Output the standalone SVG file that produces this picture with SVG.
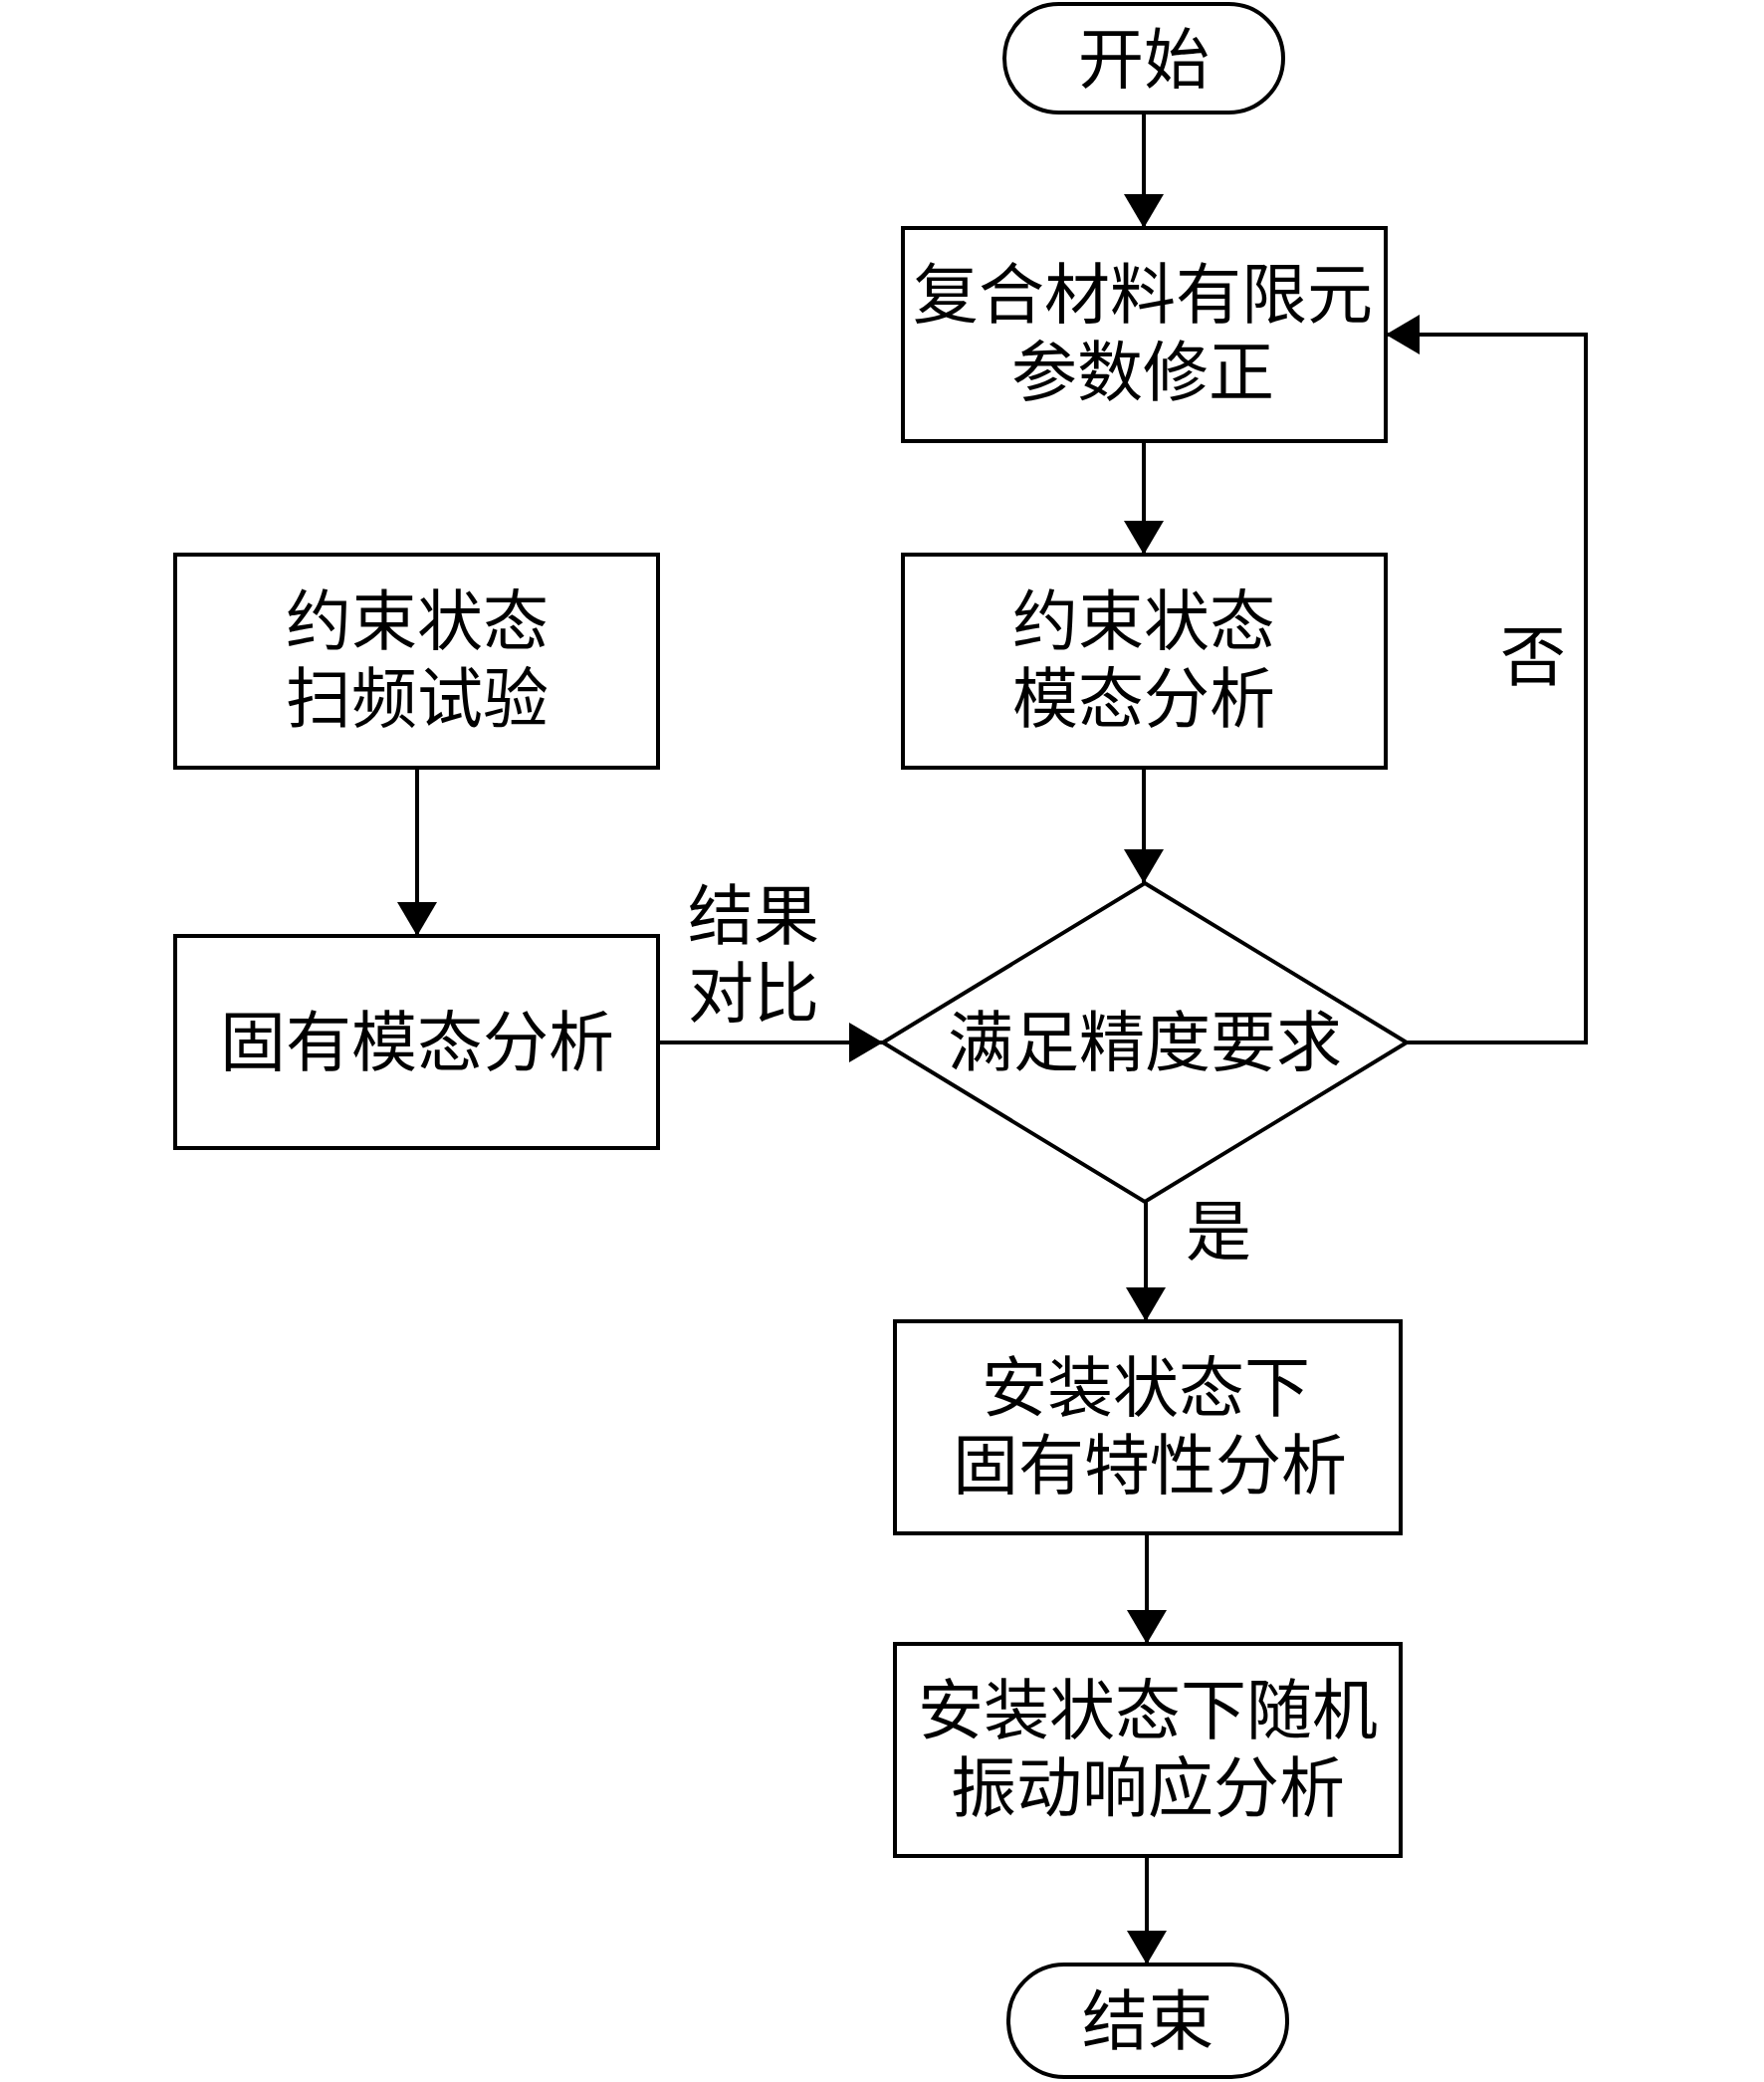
<svg xmlns="http://www.w3.org/2000/svg" width="1772" height="2091" viewBox="0 0 1772 2091">
<style>
.s{fill:#fff;stroke:#000;stroke-width:4}
.c{fill:none;stroke:#000;stroke-width:4}
text{font-family:"Liberation Serif","Noto Sans CJK SC",serif;font-size:66px;fill:#000;text-anchor:middle;dominant-baseline:central}
</style>
<defs>
<marker id="ah" markerUnits="userSpaceOnUse" markerWidth="36" markerHeight="42" refX="34" refY="20" orient="auto">
<path d="M0,0 L34,20 L0,40 Z" fill="#000"/>
</marker>
</defs>
<rect width="1772" height="2091" fill="#fff"/>
<g id="connectors">
<line class="c" x1="1149" y1="113" x2="1149" y2="229" marker-end="url(#ah)"/>
<line class="c" x1="1149" y1="443" x2="1149" y2="557" marker-end="url(#ah)"/>
<line class="c" x1="1149" y1="771" x2="1149" y2="887" marker-end="url(#ah)"/>
<line class="c" x1="419" y1="771" x2="419" y2="940" marker-end="url(#ah)"/>
<line class="c" x1="661" y1="1047" x2="887" y2="1047" marker-end="url(#ah)"/>
<polyline class="c" points="1413,1047 1593,1047 1593,336 1392,336" marker-end="url(#ah)"/>
<line class="c" x1="1151" y1="1207" x2="1151" y2="1327" marker-end="url(#ah)"/>
<line class="c" x1="1152" y1="1540" x2="1152" y2="1651" marker-end="url(#ah)"/>
<line class="c" x1="1152" y1="1864" x2="1152" y2="1973" marker-end="url(#ah)"/>
<text x="757" y="920">结果</text>
<text x="757" y="998">对比</text>
<text x="1540" y="660">否</text>
<text x="1224" y="1237">是</text>
</g>
<g id="start">
<rect class="s" x="1009" y="4" width="280" height="109" rx="54.5"/>
<text x="1149" y="60">开始</text>
</g>
<g id="modify">
<rect class="s" x="907" y="229" width="485" height="214"/>
<text x="1148" y="296">复合材料有限元</text>
<text x="1148" y="374">参数修正</text>
</g>
<g id="modal">
<rect class="s" x="907" y="557" width="485" height="214"/>
<text x="1149" y="624">约束状态</text>
<text x="1149" y="702">模态分析</text>
</g>
<g id="test">
<rect class="s" x="176" y="557" width="485" height="214"/>
<text x="419" y="624">约束状态</text>
<text x="419" y="702">扫频试验</text>
</g>
<g id="natural">
<rect class="s" x="176" y="940" width="485" height="213"/>
<text x="419" y="1047">固有模态分析</text>
</g>
<g id="check">
<polygon class="s" points="1150,887 1413,1047 1150,1207 887,1047"/>
<text x="1150" y="1047">满足精度要求</text>
</g>
<g id="installed">
<rect class="s" x="899" y="1327" width="508" height="213"/>
<text x="1151" y="1394">安装状态下</text>
<text x="1155" y="1472">固有特性分析</text>
</g>
<g id="random">
<rect class="s" x="899" y="1651" width="508" height="213"/>
<text x="1153" y="1718">安装状态下随机</text>
<text x="1153" y="1796">振动响应分析</text>
</g>
<g id="end">
<rect class="s" x="1013" y="1973" width="280" height="113" rx="56"/>
<text x="1153" y="2030">结束</text>
</g>
</svg>
